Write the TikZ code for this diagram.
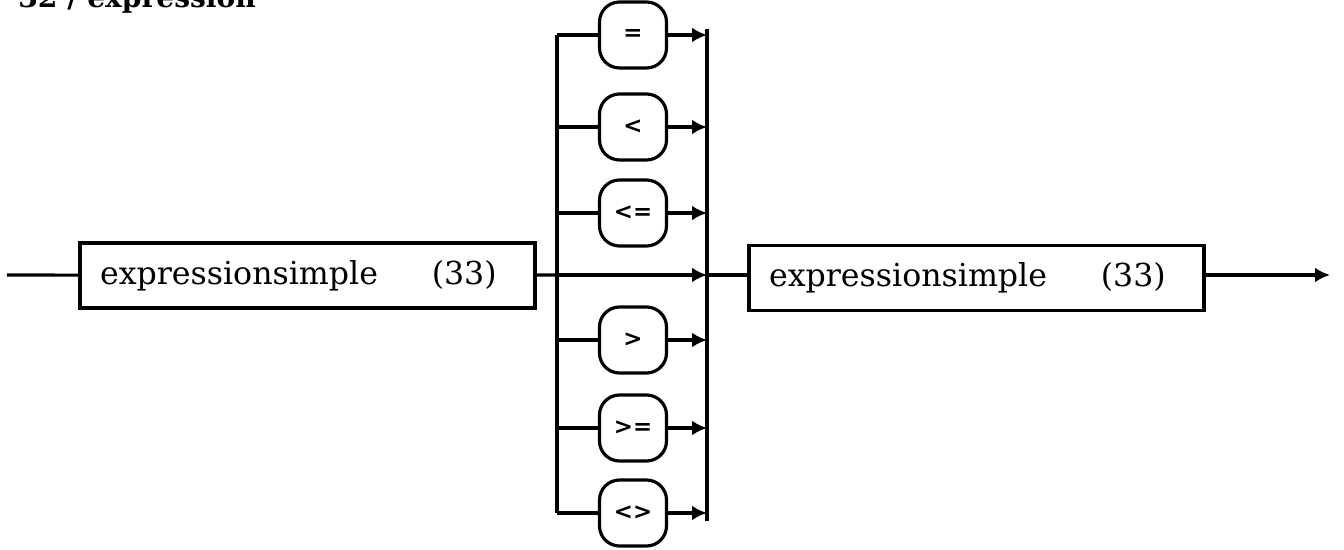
\documentclass[tikz,border=0pt]{standalone}
\usepackage{tikz}
\usetikzlibrary{arrows.meta}
\usepackage{fontspec}
\setmainfont{DejaVu Serif}
\setsansfont{DejaVu Sans}

\begin{document}
\begin{tikzpicture}[x=0.02cm,y=-0.02cm,>={Latex[length=0.3cm,width=0.3cm]},
  line/.style={black, line width=1.8pt},
  termbox/.style={draw, line width=1.8pt, minimum width=9.1cm, minimum height=1.3cm,
    text width=8.3cm, align=left, inner xsep=0.4cm, font=\fontsize{18}{22}\selectfont},
  opbox/.style={draw, line width=1.8pt, rounded corners=0.4cm, minimum width=1.34cm,
    minimum height=1.32cm, inner sep=0pt, font=\sffamily\bfseries\fontsize{13}{15}\selectfont}]
\clip (0,0) rectangle (1344,550);

% title, cut at the top edge
\node[anchor=base west, inner sep=0pt, font=\fontsize{16}{20}\selectfont\bfseries] (title) at (18,8) {32 / expression};

\coordinate (in) at (7,275);
\coordinate (split) at (557,275);
\coordinate (join) at (707,275);
\coordinate (out) at (1330,275);

\node[termbox] (e1) at (307.5,275.5) {expressionsimple\hspace{1.7em}(33)};
\node[termbox] (e2) at (976.5,278) {expressionsimple\hspace{1.7em}(33)};

\draw[line] (in) -- (e1);
\draw[line] (e1) -- (split);
\draw[line,->] (split) -- (join);
\draw[line] (join) -- (e2.west |- join);
\draw[line,->] (e2.east |- out) -- (out);

% the two rails
\draw[line] (557,35) -- (557,513);
\draw[line] (707,29) -- (707,521);

\foreach \y/\sym/\nm in {35/=/eq,127/</lt,213/<=/le,340/>/gt,428/>=/ge,513/<>/ne} {
  \coordinate (l\nm) at (557,\y);
  \coordinate (r\nm) at (707,\y);
  \node[opbox] (\nm) at (633,\y) {\sym};
  \draw[line] (l\nm) -- (\nm);
  \draw[line,->] (\nm) -- (r\nm);
}
\end{tikzpicture}
\end{document}
